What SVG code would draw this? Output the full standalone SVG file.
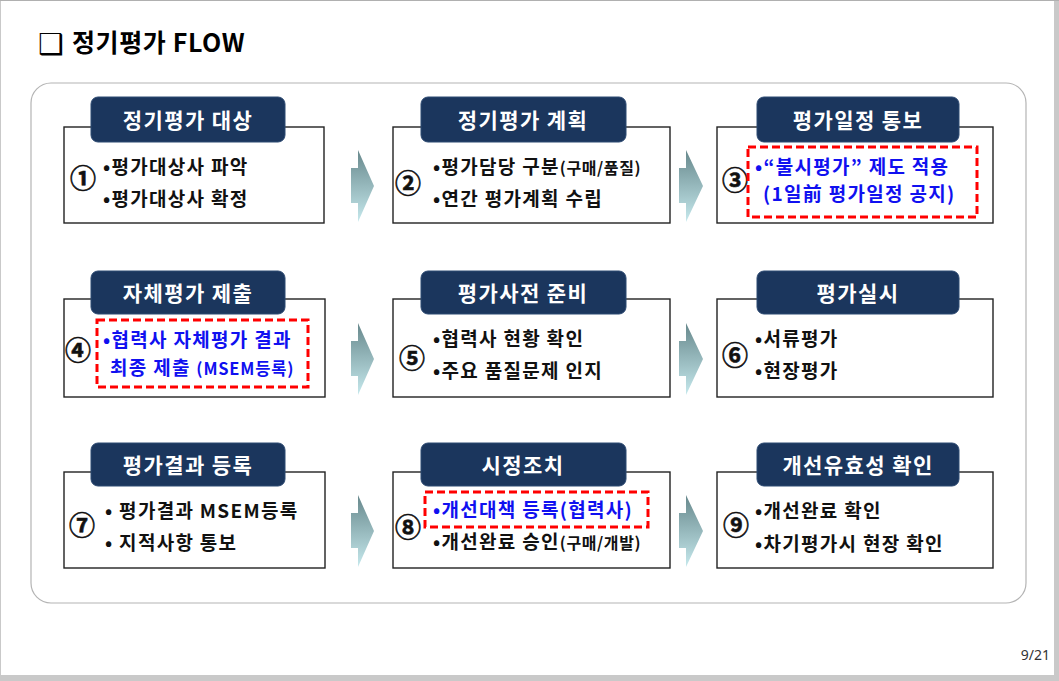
<svg xmlns="http://www.w3.org/2000/svg" width="1059" height="681" viewBox="0 0 1059 681">
<style>
.page{fill:#fff}
.frame{fill:none;stroke:#b4b4b4;stroke-width:1.2}
.box{fill:#fff;stroke:#222;stroke-width:1.4}
.tab{fill:#1b365d;stroke:#2d4a72;stroke-width:1}
.tabt{font-family:"Noto Sans CJK KR","Noto Sans",sans-serif;font-weight:700;font-size:21px;letter-spacing:1.4px;fill:#fff;text-anchor:middle}
.t{font-family:"Noto Sans CJK KR","Noto Sans",sans-serif;font-weight:700;font-size:19px;letter-spacing:1.3px;fill:#111}
.b{fill:#1010f0}
.sm{font-size:16px;letter-spacing:0.6px}
.num{font-family:"Noto Sans CJK KR","DejaVu Sans",sans-serif;font-weight:700;font-size:26px;fill:#111;text-anchor:middle;stroke:#111;stroke-width:0.6}
.dash{fill:none;stroke:#ff0000;stroke-width:3;stroke-dasharray:8 4}
.arr{fill:url(#ag)}
</style>
<defs>
<linearGradient id="ag" x1="0" y1="0" x2="0" y2="1">
<stop offset="0" stop-color="#67888c"/>
<stop offset="1" stop-color="#c6e9ed"/>
</linearGradient>
</defs>
<rect x="0" y="0" width="1059" height="681" fill="#c9c9c9"/>
<rect class="page" x="1" y="1" width="1053" height="674"/>
<line x1="0" y1="0.5" x2="1059" y2="0.5" stroke="#b0b0b0"/>
<g id="title">
<text x="38" y="54" style="font-family:'DejaVu Sans',sans-serif;font-size:29px;fill:#000">❑</text>
<text x="72" y="52" style="font-family:'Noto Sans CJK KR','Noto Sans',sans-serif;font-size:25px;font-weight:700;letter-spacing:0.6px;fill:#000">정기평가 FLOW</text>
</g>
<rect class="frame" x="31" y="83" width="995" height="520" rx="20"/>
<g id="connectors">
<polygon class="arr" points="351,168 358,168 358,150 374,186 358,222 358,203 351,203"/>
<polygon class="arr" points="679,168 686,168 686,150 703,186 686,222 686,203 679,203"/>
<polygon class="arr" points="351,341 358,341 358,323 374,359 358,395 358,376 351,376"/>
<polygon class="arr" points="679,341 686,341 686,323 703,359 686,395 686,376 679,376"/>
<polygon class="arr" points="351,513 358,513 358,495 374,531 358,567 358,548 351,548"/>
<polygon class="arr" points="679,513 686,513 686,495 703,531 686,567 686,548 679,548"/>
</g>
<g id="n1">
<rect class="box" x="64" y="127" width="260" height="96"/>
<rect class="tab" x="91" y="97" width="194" height="45" rx="7"/>
<text class="tabt" x="188" y="128">정기평가 대상</text>
<text class="num" x="83" y="188">①</text>
<text class="t" x="103" y="174">•평가대상사 파악</text>
<text class="t" x="103" y="206">•평가대상사 확정</text>
</g>
<g id="n2">
<rect class="box" x="393" y="127" width="277" height="96"/>
<rect class="tab" x="421" y="97" width="205" height="45" rx="7"/>
<text class="tabt" x="523" y="128">정기평가 계획</text>
<text class="num" x="408" y="193">②</text>
<text class="t" x="433" y="174">•평가담당 구분<tspan class="sm">(구매/품질)</tspan></text>
<text class="t" x="433" y="206">•연간 평가계획 수립</text>
</g>
<g id="n3">
<rect class="box" x="717" y="127" width="276" height="96"/>
<rect class="tab" x="757" y="97" width="202" height="45" rx="7"/>
<text class="tabt" x="858" y="128">평가일정 통보</text>
<text class="num" x="735" y="190">③</text>
<rect class="dash" x="748" y="147" width="229" height="70"/>
<text class="t b" x="755" y="174">•“불시평가” 제도 적용</text>
<text class="t b" x="763" y="201">(1일前 평가일정 공지)</text>
</g>
<g id="n4">
<rect class="box" x="64" y="299" width="261" height="98"/>
<rect class="tab" x="91" y="271" width="194" height="43" rx="7"/>
<text class="tabt" x="188" y="301">자체평가 제출</text>
<text class="num" x="78" y="360">④</text>
<rect class="dash" x="97" y="320" width="211" height="67"/>
<text class="t b" x="103" y="347">•협력사 자체평가 결과</text>
<text class="t b" x="110" y="375">최종 제출 <tspan style="font-size:16.5px;letter-spacing:0.8px">(MSEM등록)</tspan></text>
</g>
<g id="n5">
<rect class="box" x="393" y="299" width="277" height="98"/>
<rect class="tab" x="421" y="271" width="205" height="43" rx="7"/>
<text class="tabt" x="523" y="301">평가사전 준비</text>
<text class="num" x="412" y="368">⑤</text>
<text class="t" x="433" y="346">•협력사 현황 확인</text>
<text class="t" x="433" y="378">•주요 품질문제 인지</text>
</g>
<g id="n6">
<rect class="box" x="717" y="299" width="276" height="98"/>
<rect class="tab" x="757" y="271" width="202" height="43" rx="7"/>
<text class="tabt" x="858" y="301">평가실시</text>
<text class="num" x="735" y="365">⑥</text>
<text class="t" x="755" y="346">•서류평가</text>
<text class="t" x="755" y="378">•현장평가</text>
</g>
<g id="n7">
<rect class="box" x="64" y="472" width="261" height="96"/>
<rect class="tab" x="91" y="443" width="194" height="43" rx="7"/>
<text class="tabt" x="188" y="473">평가결과 등록</text>
<text class="num" x="82" y="535">⑦</text>
<text class="t" x="105" y="518">• 평가결과 MSEM등록</text>
<text class="t" x="105" y="550">• 지적사항 통보</text>
</g>
<g id="n8">
<rect class="box" x="393" y="472" width="277" height="96"/>
<rect class="tab" x="421" y="443" width="205" height="43" rx="7"/>
<text class="tabt" x="523" y="473">시정조치</text>
<text class="num" x="408" y="537">⑧</text>
<rect class="dash" x="425" y="492" width="223" height="35"/>
<text class="t b" x="433" y="517">•개선대책 등록(협력사)</text>
<text class="t" x="433" y="549">•개선완료 승인<tspan class="sm">(구매/개발)</tspan></text>
</g>
<g id="n9">
<rect class="box" x="717" y="472" width="276" height="96"/>
<rect class="tab" x="757" y="443" width="202" height="43" rx="7"/>
<text class="tabt" x="858" y="473">개선유효성 확인</text>
<text class="num" x="736" y="535">⑨</text>
<text class="t" x="755" y="518">•개선완료 확인</text>
<text class="t" x="755" y="551">•차기평가시 현장 확인</text>
</g>
<text x="1050" y="660" text-anchor="end" style="font-family:'Noto Sans','DejaVu Sans',sans-serif;font-size:14px;fill:#333">9/21</text>
</svg>
